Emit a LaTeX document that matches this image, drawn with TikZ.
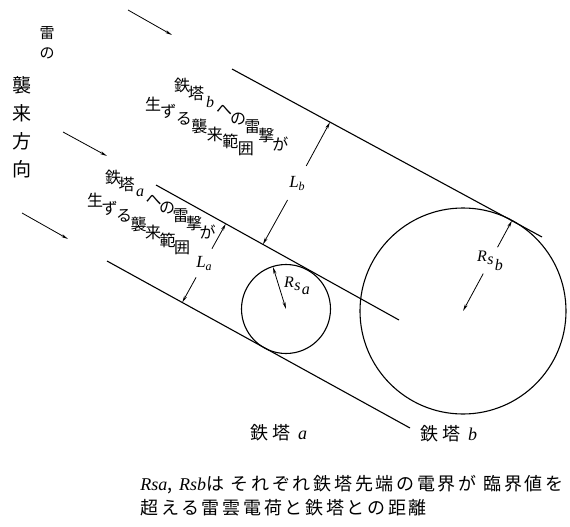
\documentclass[tikz,border=0pt]{standalone}
\usepackage{fontspec}
\usepackage{tikz}
\usetikzlibrary{arrows.meta,calc}
\newfontfamily\jpfont{Noto Sans CJK JP}
\newfontfamily\latfont{Liberation Serif}
\newcommand\lat[1]{{\latfont\itshape #1}}
\newcommand\dimL[1]{{\latfont\itshape L\raisebox{-3pt}{\fontsize{12}{12}\selectfont #1}}}
\tikzset{
  jp/.style 2 args={font=\jpfont\fontsize{#1}{#1}\selectfont\addfontfeature{LetterSpace=#2}, inner sep=0pt},
  gaplbl/.style={circle, inner sep=0pt, minimum size=#1, font=\fontsize{17}{17}\selectfont},
  radlbl/.style={font=\latfont\itshape\fontsize{16}{16}\selectfont, inner sep=0pt},
  band/.style={line width=1.1pt}
}

\begin{document}
\begin{tikzpicture}[x=1pt, y=1pt, line width=0.8pt, >={Stealth[length=7pt,width=3pt]}]
  \useasboundingbox (0,0) rectangle (570,-527);

  % Incoming direction of lightning
  \node[font=\jpfont\fontsize{15}{20}\selectfont, align=center, inner sep=0pt] (raiNo) at (47,-43) {雷\\の};
  \node[font=\jpfont\fontsize{19}{28}\selectfont, align=center, inner sep=0pt] (dirText) at (22,-127) {襲\\来\\方\\向};
  \coordinate (in1S) at (128,-10);  \coordinate (in1E) at (172,-35);
  \coordinate (in2S) at (63,-132);  \coordinate (in2E) at (107,-156);
  \coordinate (in3S) at (22,-213);  \coordinate (in3E) at (68,-239);
  \draw[->] (in1S) -- (in1E);
  \draw[->] (in2S) -- (in2E);
  \draw[->] (in3S) -- (in3E);

  % Boundary lines of the two ranges
  \coordinate (bTopS) at (232,-69);   \coordinate (bTopE) at (542,-237);
  \coordinate (aTopS) at (156,-185);  \coordinate (aTopE) at (399,-320);
  \coordinate (aBotS) at (107,-261);  \coordinate (aBotE) at (410,-428);
  \draw[band] (bTopS) -- (bTopE);
  \draw[band] (aTopS) -- (aTopE);
  \draw[band] (aBotS) -- (aBotE);

  % Range labels, set letter by letter along a slant
  \coordinate (bTxt1) at (182,-85);
  \coordinate (bTxt2) at (153,-104);
  \coordinate (aTxt1) at (113,-177);
  \coordinate (aTxt2) at (95,-200);
  \foreach \ch [count=\i from 0] in {鉄,塔,\lat{b},へ,の,雷,撃,が}
    \node[jp={16}{0}] (bRangeA\i) at ($(bTxt1)+(-31:\i*16.4pt)$) {\ch};
  \foreach \ch [count=\i from 0] in {生,ず,る,襲,来,範,囲}
    \node[jp={16}{0}] (bRangeB\i) at ($(bTxt2)+(-26:\i*17.2pt)$) {\ch};
  \foreach \ch [count=\i from 0] in {鉄,塔,\lat{a},へ,の,雷,撃,が}
    \node[jp={16}{0}] (aRangeA\i) at ($(aTxt1)+(-30:\i*15.6pt)$) {\ch};
  \foreach \ch [count=\i from 0] in {生,ず,る,襲,来,範,囲}
    \node[jp={16}{0}] (aRangeB\i) at ($(aTxt2)+(-29:\i*16.6pt)$) {\ch};

  % Circles of towers a and b
  \coordinate (cA) at (286,-309);
  \coordinate (cB) at (463,-311);
  \draw[band] (cA) circle[radius=44.5];
  \draw[band] (cB) circle[radius=103];

  % Widths Lb and La
  \node[gaplbl=38pt] (Lb) at (297,-183) {\dimL{b}};
  \coordinate (LbTop) at ($(bTopS)!(Lb)!(bTopE)$);
  \coordinate (LbBot) at ($(aTopS)!(Lb)!(aTopE)$);
  \draw[->] (Lb) -- (LbTop);
  \draw[->] (Lb) -- (LbBot);
  \node[gaplbl=32pt] (La) at (204,-263) {\dimL{a}};
  \coordinate (LaTop) at ($(aTopS)!(La)!(aTopE)$);
  \coordinate (LaBot) at ($(aBotS)!(La)!(aBotE)$);
  \draw[->] (La) -- (LaTop);
  \draw[->] (La) -- (LaBot);

  % Radius Rsa
  \coordinate (RsaTip) at (273,-267);
  \draw[<->] (cA) -- (RsaTip);
  \coordinate (RsaTxt) at (289,-282);
  \foreach \ch [count=\i from 0] in {R,s,a}
    \node[radlbl] (Rsa\i) at ($(RsaTxt)+(-28:\i*9.5pt)$) {\ch};

  % Radius Rsb
  \coordinate (tanB) at ($(bTopS)!(cB)!(bTopE)$);
  \coordinate (RsbMid) at ($(cB)!0.56!(tanB)$);
  \coordinate (RsbUp) at ($(RsbMid)!15pt!(tanB)$);
  \coordinate (RsbDn) at ($(RsbMid)!15pt!(cB)$);
  \draw[->] (RsbUp) -- (tanB);
  \draw[->] (RsbDn) -- (cB);
  \coordinate (RsbTxt) at ($(RsbMid)+(-28:-9.5pt)$);
  \foreach \ch [count=\i from 0] in {R,s,b}
    \node[radlbl] (Rsb\i) at ($(RsbTxt)+(-28:\i*9.5pt)$) {\ch};

  % Tower names
  \node[jp={18}{20}] (towerA) at (279,-433) {鉄塔 \lat{a}};
  \node[jp={18}{20}] (towerB) at (449,-434) {鉄塔 \lat{b}};

  % Note
  \node[jp={18}{15}, anchor=west] (note1) at (140,-485) {\lat{Rsa}, \lat{Rsb}は それぞれ鉄塔先端の電界が 臨界値を};
  \node[jp={18}{15}, anchor=west] (note2) at (140,-508) {超える雷雲電荷と鉄塔との距離};
\end{tikzpicture}
\end{document}
